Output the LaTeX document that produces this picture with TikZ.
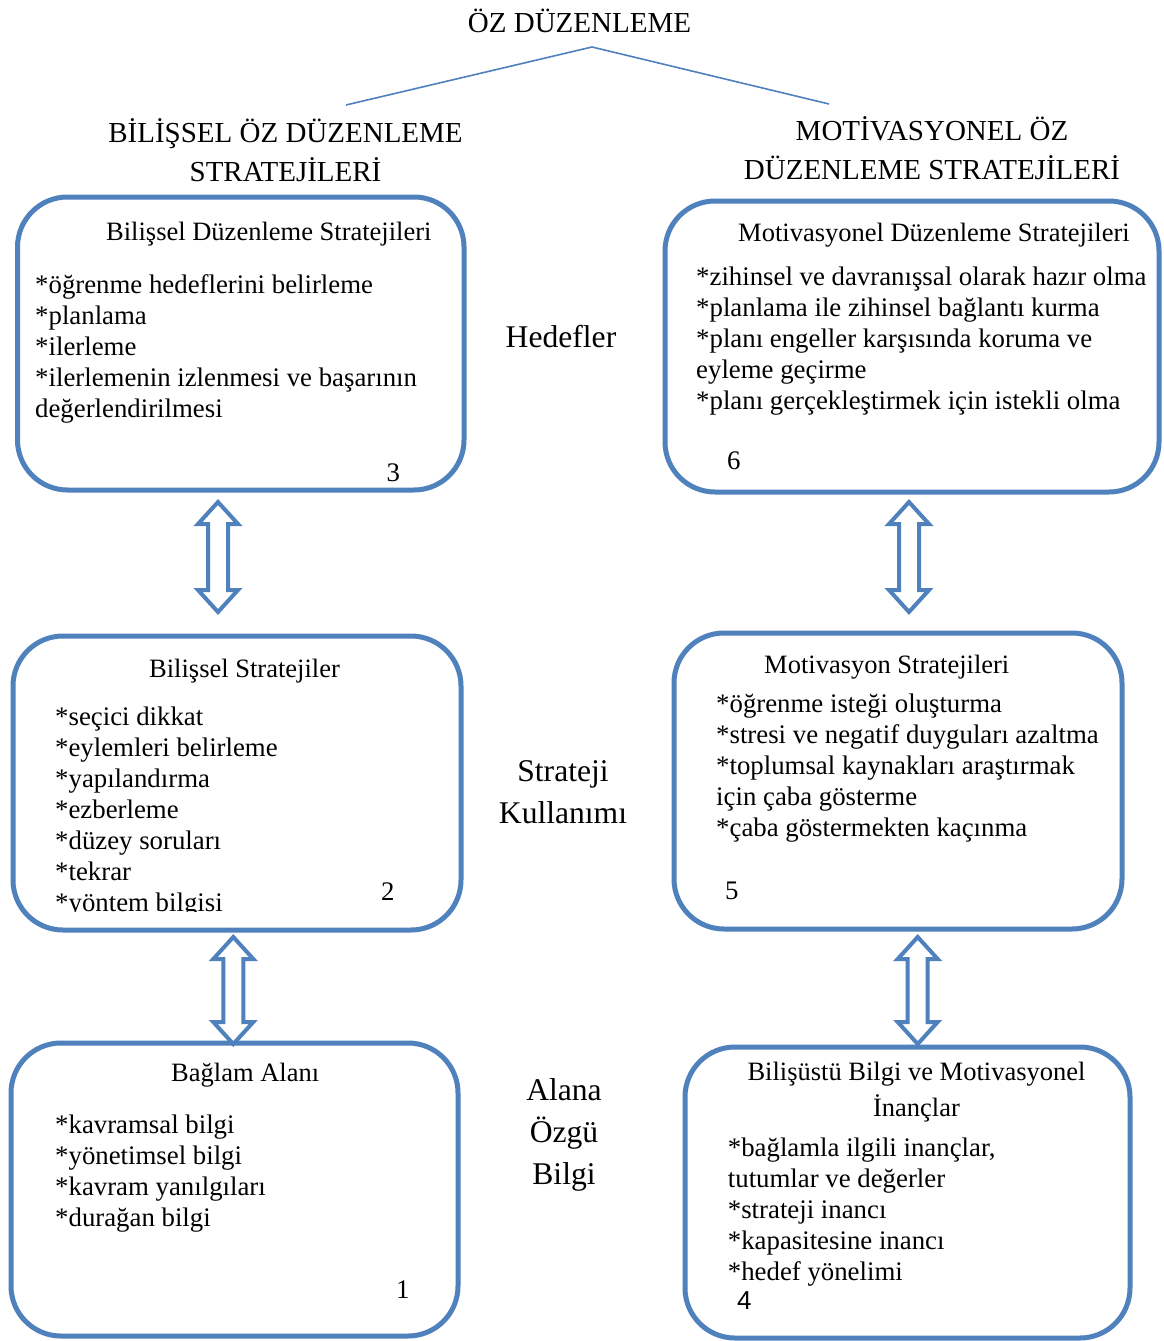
\documentclass[tikz,border=0pt]{standalone}
\usepackage{fontspec}
\setmainfont{Liberation Serif}
\newfontfamily\numfont{Liberation Sans}
\usetikzlibrary{calc}
\definecolor{ablue}{RGB}{79,129,189}
\pgfdeclarelayer{bg}
\pgfsetlayers{bg,main}
\tikzset{
  boxs/.style 2 args={draw=ablue, line width=5pt, rounded corners=50pt, fill=white, inner sep=0pt, minimum width=#1, minimum height=#2},
  conn/.style={draw=ablue, line width=1.6pt},
  arr/.style={draw=ablue, line width=4pt, fill=white, line join=miter},
  txt/.style={font=\fontsize{26.8}{31}\selectfont, inner sep=0pt, align=left, anchor=base west},
  ttl/.style={font=\fontsize{26.5}{36}\selectfont, inner sep=0pt, anchor=base west},
  ttlc/.style={font=\fontsize{26.5}{36}\selectfont, inner sep=0pt, align=center, anchor=base},
  num/.style={font=\fontsize{26.8}{31}\selectfont, inner sep=0pt, anchor=base west},
  mid/.style={font=\fontsize{31.6}{42}\selectfont, inner sep=0pt, align=center, anchor=base},
  hd/.style={font=\fontsize{29}{39}\selectfont, inner sep=0pt, align=center, anchor=base},
  pics/dblarr/.style={code={\draw[arr] (0,0) -- (20,22) -- (10,22) -- (10,#1-22) -- (20,#1-22) -- (0,#1) -- (-20,#1-22) -- (-10,#1-22) -- (-10,22) -- (-20,22) -- cycle;}}
}
\begin{document}
\begin{tikzpicture}[x=1pt,y=-1pt]
\useasboundingbox[fill=white] (0,0) rectangle (1163,1341);

% headings
\node[hd] (top) at (579.5,32.5) {ÖZ DÜZENLEME};
\node[hd] (hl) at (285.5,181) {BİLİŞSEL ÖZ DÜZENLEME\\STRATEJİLERİ};
\node[hd] (hr) at (932,179) {MOTİVASYONEL ÖZ\\DÜZENLEME STRATEJİLERİ};
\coordinate (apex) at (592,47);
\coordinate (lend) at (346,105);
\coordinate (rend) at (829,104);
\draw[conn] (lend) -- (apex) -- (rend);

% boxes
\node[boxs={446.5pt}{293pt}] (b3) at (240.75,343.5) {};
\node[boxs={494pt}{291pt}] (b6) at (912,346.5) {};
\node[boxs={448pt}{294pt}] (b2) at (237,783) {};
\node[boxs={448pt}{296pt}] (b5) at (898,781) {};
\node[boxs={447pt}{293pt}] (b1) at (234.5,1189.5) {};
\node[boxs={445pt}{291pt}] (b4) at (907.5,1192.5) {};

\begin{pgfonlayer}{bg}
\draw[conn] (b3.center) -- (b5.center);
\draw[conn] (b6.center) -- (b2.center);
\draw[conn] (b2.center) -- (b4.center);
\draw[conn] (b5.center) -- (b1.center);
\end{pgfonlayer}

% box 3
\node[ttl] (h3) at (106,240) {Bilişsel Düzenleme Stratejileri};
\node[txt] (t3) at (35,417.5) {*öğrenme hedeflerini belirleme\\*planlama\\*ilerleme\\*ilerlemenin izlenmesi ve başarının\\değerlendirilmesi};
\node[num] (n3) at (386.5,481) {3};

% box 6
\node[ttl] (h6) at (738,241.5) {Motivasyonel Düzenleme Stratejileri};
\node[txt] (t6) at (696,409) {*zihinsel ve davranışsal olarak hazır olma\\*planlama ile zihinsel bağlantı kurma\\*planı engeller karşısında koruma ve\\eyleme geçirme\\*planı gerçekleştirmek için istekli olma};
\node[num] (n6) at (727,469) {6};

% box 2
\node[ttl] (h2) at (149,677) {Bilişsel Stratejiler};
\begin{scope}
\clip (0,0) rectangle (1163,911.5);
\node[txt] (t2) at (55,911) {*seçici dikkat\\*eylemleri belirleme\\*yapılandırma\\*ezberleme\\*düzey soruları\\*tekrar\\*yöntem bilgisi};
\end{scope}
\node[num] (n2) at (381,900) {2};

% box 5
\node[ttl] (h5) at (764,673) {Motivasyon Stratejileri};
\node[txt] (t5) at (716,836) {*öğrenme isteği oluşturma\\*stresi ve negatif duyguları azaltma\\*toplumsal kaynakları araştırmak\\için çaba gösterme\\*çaba göstermekten kaçınma};
\node[num] (n5) at (725,899) {5};

% box 1
\node[ttl] (h1) at (171,1081) {Bağlam Alanı};
\node[txt] (t1) at (55,1226) {*kavramsal bilgi\\*yönetimsel bilgi\\*kavram yanılgıları\\*durağan bilgi};
\node[num] (n1) at (396,1298) {1};

% box 4
\node[ttlc] (h4) at (916.5,1116.7) {Bilişüstü Bilgi ve Motivasyonel\\İnançlar};
\node[txt] (t4) at (727.7,1280.7) {*bağlamla ilgili inançlar,\\tutumlar ve değerler\\*strateji inancı\\*kapasitesine inancı\\*hedef yönelimi};
\node[num, font=\numfont\fontsize{26}{31}\selectfont] (n4) at (737,1309) {4};

% middle labels
\node[mid] (m1) at (561,347) {Hedefler};
\node[mid] (m2) at (563,823) {Strateji\\Kullanımı};
\node[mid] (m3) at (564,1184) {Alana\\Özgü\\Bilgi};

% double arrows
\pic at ($(b3.south)+(-22.75,9.5)$) {dblarr=110};
\pic at ($(b6.south)+(-3,7.5)$) {dblarr=110};
\pic at ($(b2.south)+(-3.7,4.5)$) {dblarr=107};
\pic at ($(b5.south)+(19.7,5.5)$) {dblarr=107};
\end{tikzpicture}
\end{document}
